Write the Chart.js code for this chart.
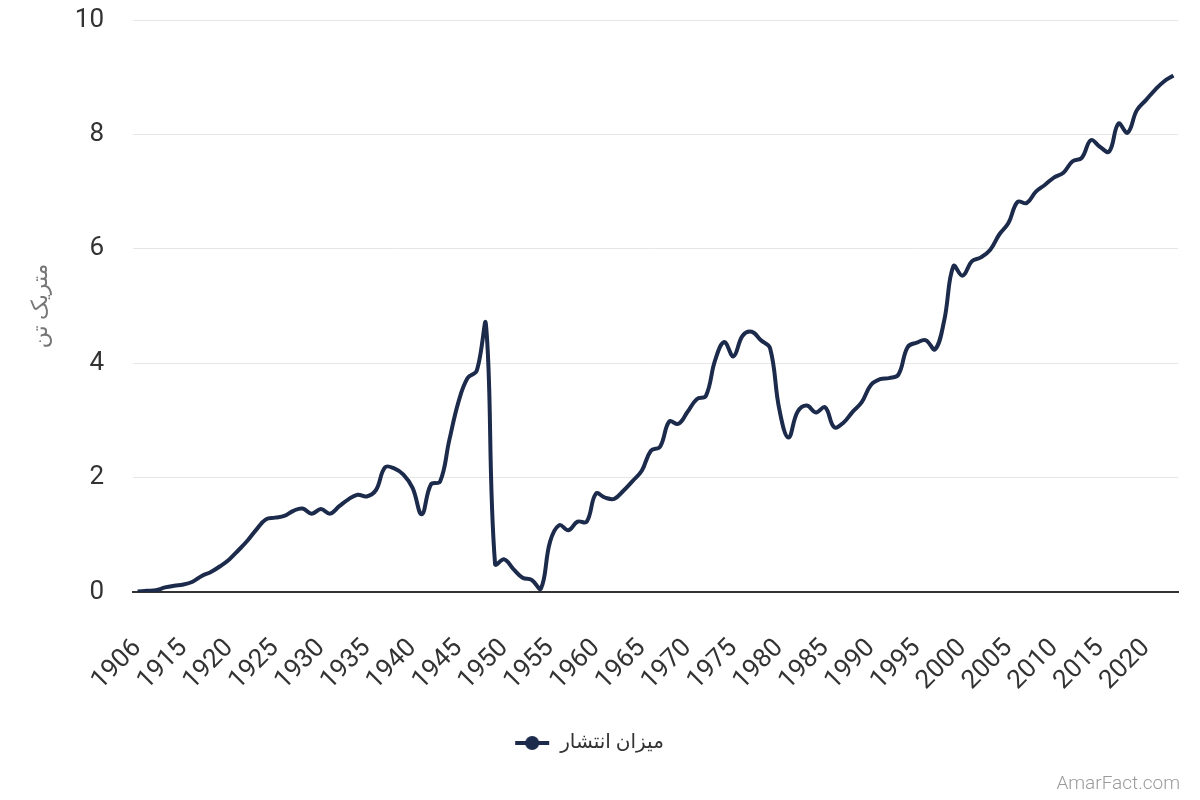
<!DOCTYPE html>
<html><head><meta charset="utf-8">
<script src="https://cdn.jsdelivr.net/npm/chart.js@4.4.1/dist/chart.umd.min.js"></script>
<style>
html,body{margin:0;padding:0;background:#fff;}
#wrap{position:relative;width:1200px;height:800px;}
#wm{position:absolute;right:20px;bottom:6px;font-family:Roboto,sans-serif;font-weight:300;font-size:19px;color:#9a9a9a;}
</style>
</head><body>
<div id="wrap"><canvas id="c" width="1200" height="800"></canvas><div id="wm">AmarFact.com</div></div>
<script>
const years = ['1906','1911','1912','1913','1914','1915','1916','1917','1918','1919','1920','1921','1922','1923','1924','1925','1926','1927','1928','1929','1930','1931','1932','1933','1934','1935','1936','1937','1938','1939','1940','1941','1942','1943','1944','1945','1946','1947','1948','1949','1950','1951','1952','1953','1954','1955','1956','1957','1958','1959','1960','1961','1962','1963','1964','1965','1966','1967','1968','1969','1970','1971','1972','1973','1974','1975','1976','1977','1978','1979','1980','1981','1982','1983','1984','1985','1986','1987','1988','1989','1990','1991','1992','1993','1994','1995','1996','1997','1998','1999','2000','2001','2002','2003','2004','2005','2006','2007','2008','2009','2010','2011','2012','2013','2014','2015','2016','2017','2018','2019','2020','2021','2022','2023'];
const emissions = [0.01,0.02,0.03,0.08,0.11,0.13,0.18,0.28,0.35,0.45,
0.57,0.73,0.90,1.10,1.27,1.30,1.33,1.42,1.46,1.37,
1.45,1.37,1.50,1.62,1.70,1.67,1.78,2.18,2.16,2.05,
1.82,1.36,1.88,1.93,2.65,3.32,3.74,3.87,4.68,0.49,
0.57,0.40,0.25,0.21,0.06,0.88,1.17,1.08,1.23,1.23,
1.72,1.65,1.63,1.77,1.94,2.12,2.47,2.54,2.98,2.94,
3.15,3.37,3.43,4.05,4.37,4.12,4.48,4.55,4.40,4.26,
3.20,2.70,3.15,3.26,3.14,3.23,2.88,2.96,3.15,3.32,
3.62,3.72,3.74,3.80,4.28,4.36,4.40,4.24,4.75,5.70,
5.53,5.78,5.85,5.98,6.25,6.45,6.82,6.80,7.00,7.12,
7.25,7.33,7.53,7.59,7.90,7.78,7.70,8.19,8.03,8.42,
8.60,8.78,8.93,9.03];
const seriesLabel = 'میزان انتشار';
const yTitle = 'متریک تن';
const yTicks = [0,2,4,6,8,10];

const lineColor = '#1c2b4b';
Chart.defaults.font.family = "Roboto, 'Noto Sans', 'DejaVu Sans', sans-serif";

const icon = document.createElement('canvas');
icon.width = 36; icon.height = 16;
const g = icon.getContext('2d');
g.strokeStyle = lineColor; g.lineWidth = 4;
g.beginPath(); g.moveTo(1,8); g.lineTo(35,8); g.stroke();
g.fillStyle = lineColor; g.beginPath(); g.arc(18,8,7,0,Math.PI*2); g.fill();

new Chart(document.getElementById('c'), {
  type: 'line',
  data: {
    labels: years,
    datasets: [{
      label: seriesLabel,
      data: emissions,
      borderColor: lineColor,
      backgroundColor: lineColor,
      borderWidth: 4,
      pointRadius: 0,
      pointHoverRadius: 0,
      tension: 0.4,
      fill: false
    }]
  },
  options: {
    responsive: false,
    animation: false,
    devicePixelRatio: 1,
    layout: { padding: { left: 0, right: 22, top: 20, bottom: 37 } },
    plugins: {
      legend: {
        position: 'bottom',
        labels: { usePointStyle: true, pointStyle: icon, pointStyleWidth: 36, boxHeight: 16, padding: 10, color: '#333', font: { size: 20 } }
      },
      tooltip: { enabled: false }
    },
    scales: {
      x: {
        offset: true,
        grid: { display: false },
        border: { display: true, color: '#333', width: 2 },
        ticks: {
          autoSkip: false, maxRotation: 45, minRotation: 45, padding: 33,
          color: '#333', font: { size: 26 },
          callback: function(v, i) { return i % 5 === 0 ? this.getLabelForValue(v) : ''; }
        },
        afterFit: s => { s.height = 131; s.paddingLeft = 0; s.paddingRight = 0; }
      },
      y: {
        min: 0, max: 10,
        afterBuildTicks: s => { s.ticks = yTicks.map(v => ({ value: v })); },
        ticks: { padding: 29, color: '#333', font: { size: 26 } },
        grid: { color: '#e6e6e6', drawTicks: false },
        border: { display: false },
        title: { display: true, text: yTitle, color: '#777', font: { size: 22 }, padding: { top: 28, bottom: 0 } },
        afterFit: s => { s.width = 133; s.paddingTop = 0; s.paddingBottom = 0; }
      }
    }
  }
});
</script>
</body></html>
